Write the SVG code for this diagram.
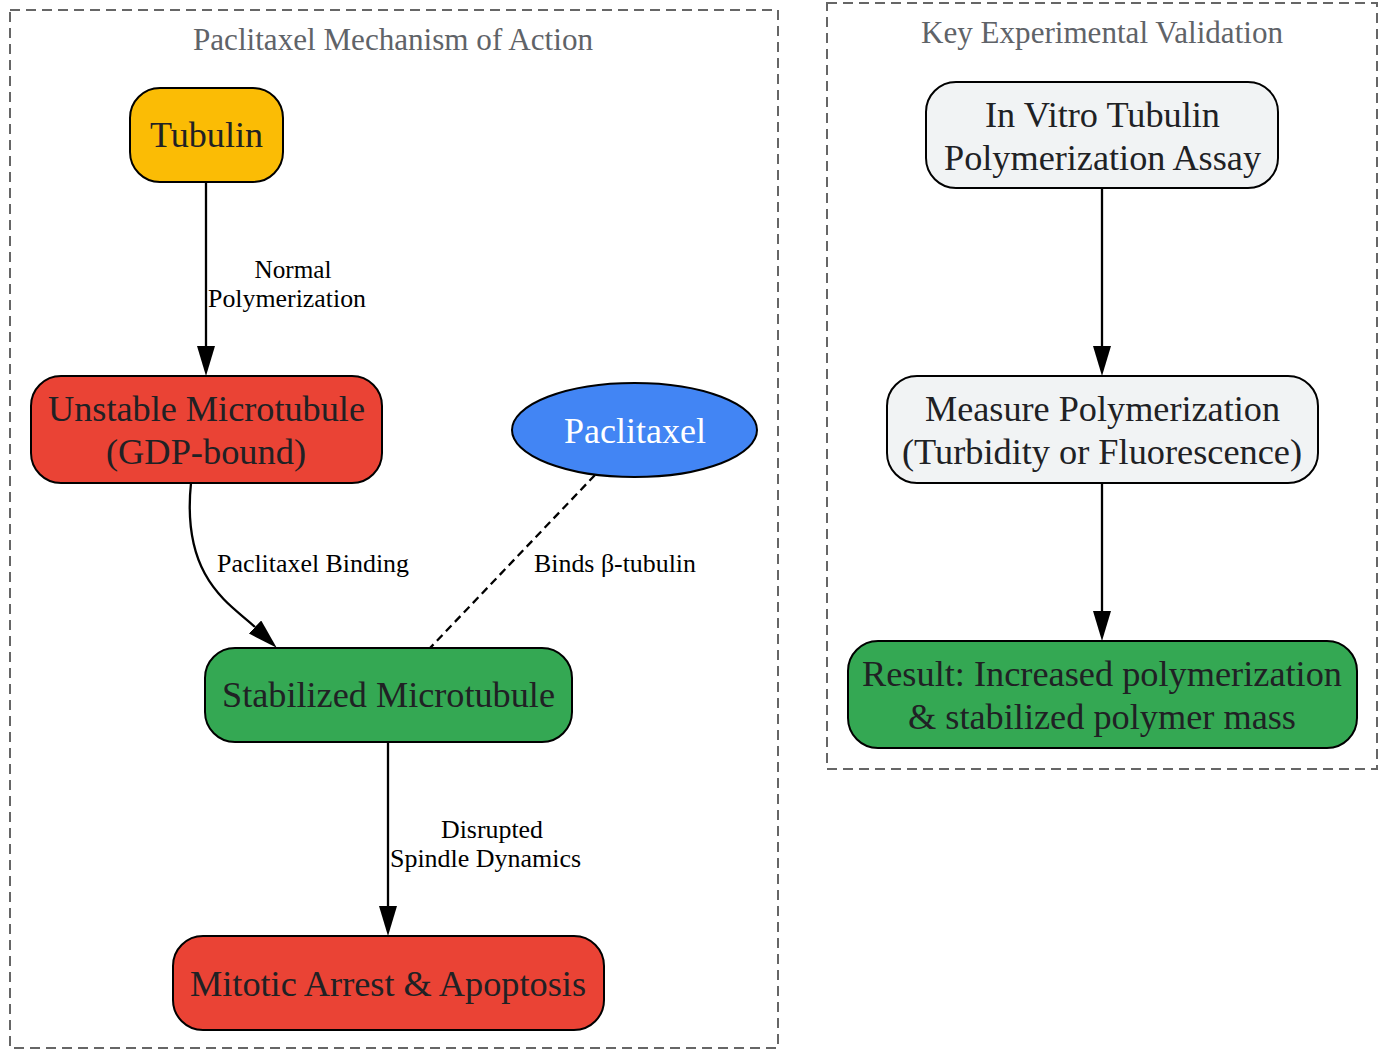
<svg xmlns="http://www.w3.org/2000/svg" width="1386" height="1050" viewBox="0 0 1386 1050">
<style>
.cluster{fill:none;stroke:#666;stroke-width:2;stroke-dasharray:10,6}
.ctitle{font-family:"Liberation Serif","Times New Roman",serif;font-size:31px;fill:#5f6368;text-anchor:middle}
.node{stroke:#000;stroke-width:2}
.nt{font-family:"Liberation Serif","Times New Roman",serif;font-size:36px;fill:#202124;text-anchor:middle}
.el{font-family:"Liberation Serif","Times New Roman",serif;font-size:25px;fill:#000;text-anchor:middle}
.edge{fill:none;stroke:#000;stroke-width:2.3}
</style>
<defs>
<marker id="ah" markerUnits="userSpaceOnUse" markerWidth="30" markerHeight="18" viewBox="0 0 30 18" refX="0" refY="9" orient="auto">
<path d="M0,0 L30,9 L0,18 z" fill="#000"/>
</marker>
</defs>
<rect width="1386" height="1050" fill="#fff"/>
<g id="cluster-mechanism">
<rect class="cluster" x="10" y="10" width="768" height="1038"/>
<text class="ctitle" x="393" y="50" textLength="400" lengthAdjust="spacingAndGlyphs">Paclitaxel Mechanism of Action</text>
</g>
<g id="cluster-validation">
<rect class="cluster" x="827" y="3" width="550" height="766"/>
<text class="ctitle" x="1102" y="43" textLength="362" lengthAdjust="spacingAndGlyphs">Key Experimental Validation</text>
</g>
<g id="connectors">
<path class="edge" d="M206,182 L206,346" marker-end="url(#ah)"/>
<text class="el" x="293" y="278" textLength="77" lengthAdjust="spacingAndGlyphs">Normal</text>
<text class="el" x="287" y="307" textLength="158" lengthAdjust="spacingAndGlyphs">Polymerization</text>
<path class="edge" d="M191,483 C181,580 232,605 255,627" marker-end="url(#ah)"/>
<text class="el" x="313" y="572" textLength="192" lengthAdjust="spacingAndGlyphs">Paclitaxel Binding</text>
<path class="edge" d="M595,475 L430,648" stroke-dasharray="8,5"/>
<text class="el" x="615" y="572" textLength="162" lengthAdjust="spacingAndGlyphs">Binds β-tubulin</text>
<path class="edge" d="M388,742 L388,906" marker-end="url(#ah)"/>
<text class="el" x="492" y="838" textLength="102" lengthAdjust="spacingAndGlyphs">Disrupted</text>
<text class="el" x="485.5" y="867" textLength="191" lengthAdjust="spacingAndGlyphs">Spindle Dynamics</text>
<path class="edge" d="M1102,188 L1102,346" marker-end="url(#ah)"/>
<path class="edge" d="M1102,483 L1102,611" marker-end="url(#ah)"/>
</g>
<g id="node-tubulin">
<rect class="node" x="130" y="88" width="153" height="94" rx="30" fill="#FBBC05"/>
<text class="nt" x="206.5" y="147" textLength="113" lengthAdjust="spacingAndGlyphs">Tubulin</text>
</g>
<g id="node-unstable">
<rect class="node" x="31" y="376" width="351" height="107" rx="30" fill="#EA4335"/>
<text class="nt" x="206.5" y="421" textLength="317" lengthAdjust="spacingAndGlyphs">Unstable Microtubule</text>
<text class="nt" x="206" y="464" textLength="200" lengthAdjust="spacingAndGlyphs">(GDP-bound)</text>
</g>
<g id="node-paclitaxel">
<ellipse class="node" cx="634.5" cy="430" rx="122.5" ry="47" fill="#4285F4"/>
<text class="nt" x="635" y="443" style="fill:#fff" textLength="142" lengthAdjust="spacingAndGlyphs">Paclitaxel</text>
</g>
<g id="node-stabilized">
<rect class="node" x="205" y="648" width="367" height="94" rx="30" fill="#34A853"/>
<text class="nt" x="388.5" y="707" textLength="333" lengthAdjust="spacingAndGlyphs">Stabilized Microtubule</text>
</g>
<g id="node-mitotic">
<rect class="node" x="173" y="936" width="431" height="94" rx="30" fill="#EA4335"/>
<text class="nt" x="388" y="996" textLength="396" lengthAdjust="spacingAndGlyphs">Mitotic Arrest &amp; Apoptosis</text>
</g>
<g id="node-invitro">
<rect class="node" x="926" y="82" width="352" height="106" rx="30" fill="#F1F3F4"/>
<text class="nt" x="1102.5" y="127" textLength="235" lengthAdjust="spacingAndGlyphs">In Vitro Tubulin</text>
<text class="nt" x="1102.5" y="170" textLength="317" lengthAdjust="spacingAndGlyphs">Polymerization Assay</text>
</g>
<g id="node-measure">
<rect class="node" x="887" y="376" width="431" height="107" rx="30" fill="#F1F3F4"/>
<text class="nt" x="1102.5" y="421" textLength="355" lengthAdjust="spacingAndGlyphs">Measure Polymerization</text>
<text class="nt" x="1102" y="464" textLength="400" lengthAdjust="spacingAndGlyphs">(Turbidity or Fluorescence)</text>
</g>
<g id="node-result">
<rect class="node" x="848" y="641" width="509" height="107" rx="30" fill="#34A853"/>
<text class="nt" x="1102" y="686" textLength="480" lengthAdjust="spacingAndGlyphs">Result: Increased polymerization</text>
<text class="nt" x="1102" y="729" textLength="388" lengthAdjust="spacingAndGlyphs">&amp; stabilized polymer mass</text>
</g>
</svg>
